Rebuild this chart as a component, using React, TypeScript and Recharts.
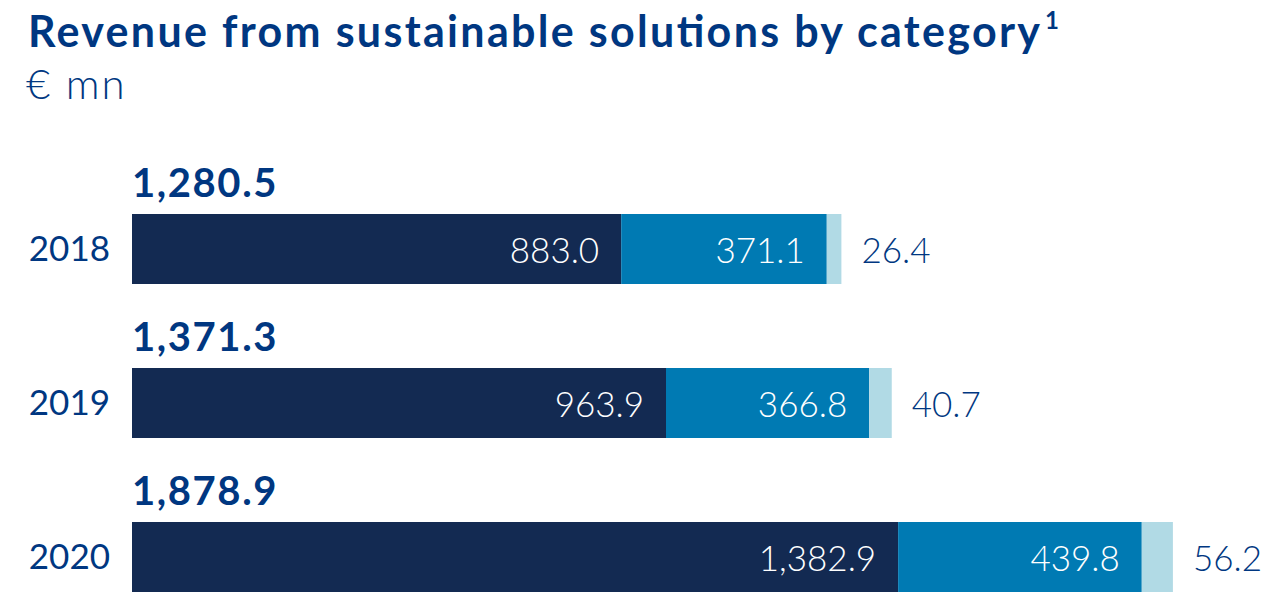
import React from 'react';
import { BarChart, Bar, XAxis, YAxis, LabelList } from 'recharts';

const years = ['2018', '2019', '2020'];
const category1 = [883.0, 963.9, 1382.9];
const category2 = [371.1, 366.8, 439.8];
const category3 = [26.4, 40.7, 56.2];
const totals = [1280.5, 1371.3, 1878.9];

const NAVY = '#003781';
const COLORS = ['#132A52', '#007AB3', '#B1DAE5'];
const FONT = 'Lato, "Open Sans", sans-serif';

const data = years.map((year, i) => ({
  year,
  c1: category1[i],
  c2: category2[i],
  c3: category3[i],
  total: totals[i],
}));

const fmt = (v: number) =>
  Number(v).toLocaleString('en-US', { minimumFractionDigits: 1, maximumFractionDigits: 1 });

// value written inside the segment, right aligned
const InsideLabel = (props: any) => {
  const { x, y, width, height, value } = props;
  return (
    <text
      x={Number(x) + Number(width) - 22}
      y={Number(y) + Number(height) / 2}
      textAnchor="end"
      dominantBaseline="central"
      fill="#ffffff"
      fontFamily={FONT}
      fontSize={35}
      fontWeight={300}
    >
      {fmt(value)}
    </text>
  );
};

// small last segment gets its value outside
const OutsideLabel = (props: any) => {
  const { x, y, width, height, value } = props;
  return (
    <text
      x={Number(x) + Number(width) + 20}
      y={Number(y) + Number(height) / 2}
      textAnchor="start"
      dominantBaseline="central"
      fill={NAVY}
      fontFamily={FONT}
      fontSize={35}
      fontWeight={300}
    >
      {fmt(value)}
    </text>
  );
};

// total above the bar, starting at the left edge
const TotalLabel = (props: any) => {
  const { x, y, value } = props;
  return (
    <text
      x={Number(x)}
      y={Number(y) - 17}
      textAnchor="start"
      fill={NAVY}
      fontFamily={FONT}
      fontSize={40}
      fontWeight={700}
      letterSpacing={1.6}
    >
      {fmt(value)}
    </text>
  );
};

export default function App() {
  return (
    <div
      style={{
        position: 'absolute',
        left: 0,
        top: 0,
        width: 1265,
        height: 595,
        overflow: 'hidden',
        background: '#ffffff',
      }}
    >
      <svg width={1265} height={130} style={{ position: 'absolute', left: 0, top: 0 }}>
        <text
          x={28}
          y={47}
          fill={NAVY}
          fontFamily={FONT}
          fontSize={43}
          fontWeight={700}
          textLength={1012}
          lengthAdjust="spacing"
        >
          Revenue from sustainable solutions by category
        </text>
        <text x={1045} y={29} fill={NAVY} fontFamily={FONT} fontSize={24} fontWeight={700}>
          1
        </text>
        <text
          x={26}
          y={99}
          fill={NAVY}
          fontFamily={FONT}
          fontSize={42}
          fontWeight={300}
          letterSpacing={2}
        >
          € mn
        </text>
      </svg>
      <div style={{ position: 'absolute', left: 0, top: 0 }}>
        <BarChart
          width={1265}
          height={640}
          data={data}
          layout="vertical"
          margin={{ top: 172, right: 25, bottom: 6, left: 0 }}
        >
          <XAxis type="number" domain={[0, 2000]} hide />
          <YAxis
            type="category"
            dataKey="year"
            width={132}
            axisLine={false}
            tickLine={false}
            tickSize={0}
            tickMargin={22}
            tick={{ fill: NAVY, fontSize: 35, fontFamily: FONT }}
          />
          <Bar dataKey="c1" stackId="a" fill={COLORS[0]} barSize={70} isAnimationActive={false}>
            <LabelList dataKey="c1" content={InsideLabel} />
            <LabelList dataKey="total" content={TotalLabel} />
          </Bar>
          <Bar dataKey="c2" stackId="a" fill={COLORS[1]} barSize={70} isAnimationActive={false}>
            <LabelList dataKey="c2" content={InsideLabel} />
          </Bar>
          <Bar dataKey="c3" stackId="a" fill={COLORS[2]} barSize={70} isAnimationActive={false}>
            <LabelList dataKey="c3" content={OutsideLabel} />
          </Bar>
        </BarChart>
      </div>
    </div>
  );
}
